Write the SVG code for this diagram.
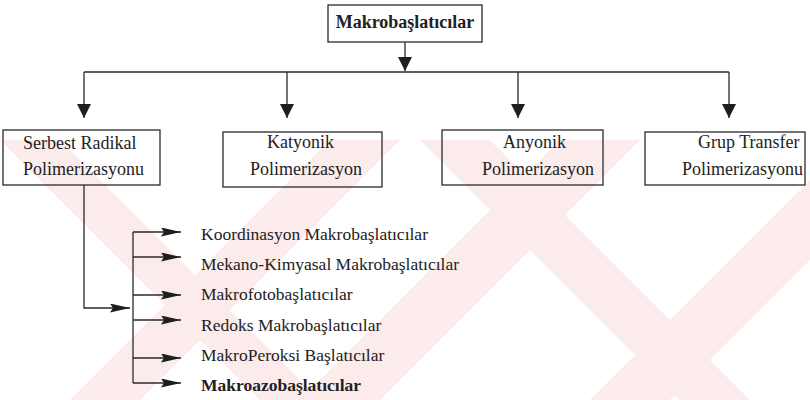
<svg xmlns="http://www.w3.org/2000/svg" width="810" height="400" viewBox="0 0 810 400">
<style>
.box{fill:none;stroke:#2a2a2a;stroke-width:1.3}
.t{font-family:"Liberation Serif","Times New Roman",serif;font-size:18px;fill:#222}
.li{font-family:"Liberation Serif","Times New Roman",serif;font-size:17.5px;fill:#222}
.c{fill:none;stroke:#2a2a2a;stroke-width:1.3}
.wm{fill:#fcebeb}
</style>
<defs>
<marker id="ad" markerUnits="userSpaceOnUse" markerWidth="14" markerHeight="14" refX="14" refY="7" orient="auto"><path d="M0,0 L14,7 L0,14 z" fill="#1e1e1e"/></marker>
<marker id="as" markerUnits="userSpaceOnUse" markerWidth="20" markerHeight="9" refX="20" refY="4.5" orient="auto"><path d="M0,0 L20,4.5 L0,9 L3,4.5 z" fill="#1e1e1e"/></marker>
</defs>
<rect width="810" height="400" fill="#fff"/>
<g id="watermark">
<polygon class="wm" points="0,140 60,140 320,400 260,400"/>
<polygon class="wm" points="330,140 400,140 140,400 70,400"/>
<polygon class="wm" points="560,140 640,140 380,400 300,400"/>
<polygon class="wm" points="420,140 490,140 750,400 680,400"/>
<polygon class="wm" points="810,180 810,260 670,400 590,400"/>
</g>
<g id="connectors">
<line class="c" x1="405" y1="42" x2="405" y2="71" marker-end="url(#ad)"/>
<line class="c" x1="84" y1="72" x2="729" y2="72"/>
<line class="c" x1="84" y1="72" x2="84" y2="118" marker-end="url(#ad)"/>
<line class="c" x1="287" y1="72" x2="287" y2="118" marker-end="url(#ad)"/>
<line class="c" x1="518" y1="72" x2="518" y2="118" marker-end="url(#ad)"/>
<line class="c" x1="729" y1="72" x2="729" y2="118" marker-end="url(#ad)"/>
<polyline class="c" points="84,185 84,308 130,308" marker-end="url(#as)"/>
<line class="c" x1="133" y1="232" x2="133" y2="383"/>
<line class="c" x1="133" y1="232" x2="181" y2="232" marker-end="url(#as)"/>
<line class="c" x1="133" y1="257" x2="181" y2="257" marker-end="url(#as)"/>
<line class="c" x1="133" y1="295" x2="181" y2="295" marker-end="url(#as)"/>
<line class="c" x1="133" y1="320" x2="181" y2="320" marker-end="url(#as)"/>
<line class="c" x1="133" y1="358" x2="181" y2="358" marker-end="url(#as)"/>
<line class="c" x1="133" y1="383" x2="181" y2="383" marker-end="url(#as)"/>
</g>
<g id="n-root">
<rect class="box" x="328" y="5" width="154" height="37"/>
<text class="t" x="405" y="28" text-anchor="middle" font-weight="bold" font-size="17.5">Makrobaşlatıcılar</text>
</g>
<g id="n-serbest">
<rect class="box" x="3" y="130" width="157" height="55"/>
<text class="t" x="23" y="149">Serbest Radikal</text>
<text class="t" x="23" y="175">Polimerizasyonu</text>
</g>
<g id="n-katyonik">
<rect class="box" x="223" y="132" width="159" height="55"/>
<text class="t" x="267" y="148">Katyonik</text>
<text class="t" x="250" y="175">Polimerizasyon</text>
</g>
<g id="n-anyonik">
<rect class="box" x="442" y="130" width="161" height="55"/>
<text class="t" x="503" y="148">Anyonik</text>
<text class="t" x="482" y="175">Polimerizasyon</text>
</g>
<g id="n-grup">
<rect class="box" x="645" y="132" width="160" height="53"/>
<text class="t" x="698" y="148">Grup Transfer</text>
<text class="t" x="682" y="175">Polimerizasyonu</text>
</g>
<g id="n-list">
<text class="li" x="201" y="240">Koordinasyon Makrobaşlatıcılar</text>
<text class="li" x="201" y="270">Mekano-Kimyasal Makrobaşlatıcılar</text>
<text class="li" x="201" y="300">Makrofotobaşlatıcılar</text>
<text class="li" x="201" y="331">Redoks Makrobaşlatıcılar</text>
<text class="li" x="201" y="361">MakroPeroksi Başlatıcılar</text>
<text class="li" x="201" y="391" font-weight="bold">Makroazobaşlatıcılar</text>
</g>
</svg>
